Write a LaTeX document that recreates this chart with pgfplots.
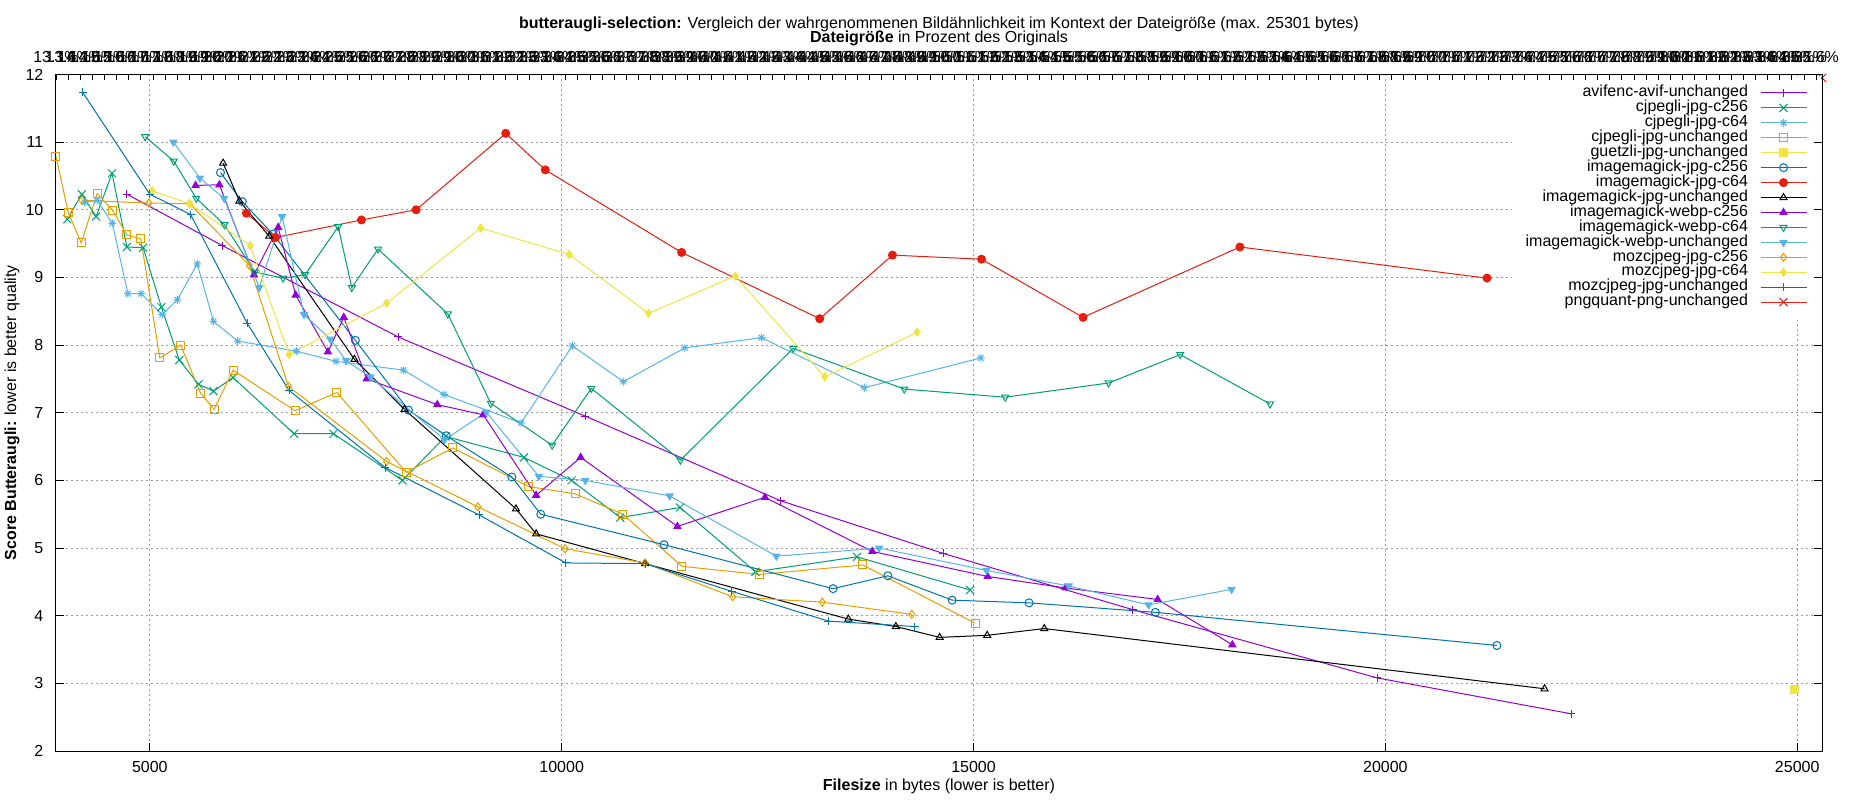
\documentclass[border=0pt]{standalone}
\usepackage{fontspec}
\setmainfont{Liberation Sans}
\usepackage{pgfplots}
\pgfplotsset{compat=1.18}
\definecolor{cpurple}{HTML}{9400D3}
\definecolor{cgreen}{HTML}{009E73}
\definecolor{csky}{HTML}{56B4E9}
\definecolor{corange}{HTML}{E69F00}
\definecolor{cyellow}{HTML}{F0E442}
\definecolor{cblue}{HTML}{0072B2}
\definecolor{cred}{HTML}{E51E10}
\newcommand{\fs}{\fontsize{8}{9.6}\selectfont}
\pgfdeclareplotmark{gpast}{%
 \pgfpathmoveto{\pgfqpoint{-\pgfplotmarksize}{0pt}}\pgfpathlineto{\pgfqpoint{\pgfplotmarksize}{0pt}}%
 \pgfpathmoveto{\pgfqpoint{0pt}{-\pgfplotmarksize}}\pgfpathlineto{\pgfqpoint{0pt}{\pgfplotmarksize}}%
 \pgfpathmoveto{\pgfqpoint{-0.7071\pgfplotmarksize}{-0.7071\pgfplotmarksize}}\pgfpathlineto{\pgfqpoint{0.7071\pgfplotmarksize}{0.7071\pgfplotmarksize}}%
 \pgfpathmoveto{\pgfqpoint{-0.7071\pgfplotmarksize}{0.7071\pgfplotmarksize}}\pgfpathlineto{\pgfqpoint{0.7071\pgfplotmarksize}{-0.7071\pgfplotmarksize}}%
 \pgfusepathqstroke}
\pgfdeclareplotmark{gpx}{%
 \pgfpathmoveto{\pgfqpoint{-\pgfplotmarksize}{-\pgfplotmarksize}}\pgfpathlineto{\pgfqpoint{\pgfplotmarksize}{\pgfplotmarksize}}%
 \pgfpathmoveto{\pgfqpoint{-\pgfplotmarksize}{\pgfplotmarksize}}\pgfpathlineto{\pgfqpoint{\pgfplotmarksize}{-\pgfplotmarksize}}%
 \pgfusepathqstroke}
\pgfplotsset{
 gp/.style={line width=0.5pt, mark size=2pt, mark options={solid, line width=0.5pt}},
 every axis title shift=0pt,
}
\begin{document}
\begin{tikzpicture}
\path[use as bounding box] (0,0) rectangle (925pt,400pt);
\begin{axis}[
 at={(28pt,24.5pt)}, anchor=south west,
 scale only axis, width=883pt, height=338.25pt,
 xmin=3861, xmax=25301, ymin=2, ymax=12,
 xtick={5000,10000,15000,20000,25000},
 ytick={2,...,12},
 scaled x ticks=false, scaled y ticks=false,
 xtick pos=bottom, ytick pos=left,
 tick align=inside,
 major tick length=3.9pt,
 grid=major,
 major grid style={dash pattern=on 1pt off 1.5pt, color=black!40, line width=0.5pt},
 axis line style={line width=0.5pt},
 every tick/.style={black, line width=0.5pt},
 /pgf/number format/1000 sep={},
 /pgf/number format/assume math mode=true,
 xticklabel style={font=\fs, yshift=-1.5pt},
 yticklabel style={font=\fs, xshift=-2.8pt},
 xlabel={\textbf{Filesize} in bytes (lower is better)},
 xlabel style={at={(axis description cs:0.5,-0.0517)}, anchor=center, font=\fs},
 ylabel={\textbf{Score Butteraugli:} lower is better quality},
 ylabel style={at={(axis description cs:-0.0249,0.5)}, anchor=center, font=\fs},
 title={\textbf{butteraugli-selection:} Vergleich der wahrgenommenen Bildähnlichkeit im Kontext der Dateigröße (max. 25301 bytes)},
 title style={at={(axis description cs:0.5,1.0745)}, anchor=center, font=\fs},
 legend style={at={(rel axis cs:1,1)}, anchor=north east, xshift=-0.3pt, yshift=-0.3pt, draw=none, fill=white, font=\fs,
   inner xsep=7pt, inner ysep=5pt, row sep=0pt, column sep=6pt,
   nodes={inner sep=0pt, text height=5.6pt, text depth=1.87pt}},
 legend cell align=right, legend plot pos=right,
 legend image code/.code={\draw[mark repeat=2,mark phase=2] plot coordinates {(0pt,0pt) (11.5pt,0pt) (23pt,0pt)};},
]
\addplot[gp, color=cpurple, mark=+] coordinates {
(4722,10.23) (5882,9.47) (8016,8.12) (10287,6.95) (12657,5.70) (14635,4.92) (16931,4.09) (19903,3.08) (22256,2.55)};
\addlegendentry{avifenc-avif-unchanged}
\addplot[gp, color=cgreen, mark=gpx] coordinates {
(3998,9.86) (4175,10.23) (4348,9.90) (4541,10.54) (4722,9.45) (4919,9.44) (5141,8.56) (5358,7.78) (5592,7.42) (5773,7.32) (6011,7.52) (6751,6.69) (7230,6.69) (8068,6.00) (8590,6.65) (9543,6.34) (10120,6.00) (10712,5.45) (11437,5.60) (12352,4.65) (13586,4.87) (14958,4.38)};
\addlegendentry{cjpegli-jpg-c256}
\addplot[gp, color=csky, mark=gpast] coordinates {
(4207,10.11) (4360,10.14) (4545,9.80) (4734,8.76) (4895,8.76) (5149,8.45) (5334,8.67) (5576,9.20) (5773,8.35) (6067,8.06) (6780,7.91) (7263,7.76) (8080,7.63) (8572,7.27) (9508,6.85) (10129,7.99) (10749,7.46) (11497,7.96) (12426,8.11) (13674,7.37) (15088,7.81)};
\addlegendentry{cjpegli-jpg-c64}
\addplot[gp, color=corange, mark=square] coordinates {
(3861,10.79) (4010,9.96) (4167,9.51) (4360,10.24) (4549,9.99) (4722,9.63) (4891,9.57) (5121,7.81) (5374,8.00) (5616,7.29) (5781,7.05) (6011,7.63) (6763,7.03) (7271,7.30) (8112,6.12) (8678,6.48) (9598,5.91) (10166,5.80) (10744,5.50) (11460,4.73) (12403,4.61) (13655,4.75) (15018,3.89)};
\addlegendentry{cjpegli-jpg-unchanged}
\addplot[gp, color=cyellow, mark=square*, mark options={fill=cyellow}] coordinates {
(24971,2.91)};
\addlegendentry{guetzli-jpg-unchanged}
\addplot[gp, color=cblue, mark=o] coordinates {
(5858,10.55) (6123,10.12) (6494,9.64) (7496,8.07) (8140,7.04) (8599,6.66) (9395,6.05) (9746,5.50) (11243,5.05) (13295,4.40) (13960,4.59) (14741,4.23) (15674,4.19) (17208,4.05) (21354,3.56)};
\addlegendentry{imagemagick-jpg-c256}
\addplot[gp, color=cred, mark=*, mark options={fill=cred}] coordinates {
(6172,9.95) (6526,9.59) (7569,9.85) (8233,10.00) (9321,11.13) (9801,10.59) (11456,9.37) (13133,8.39) (14016,9.33) (15097,9.27) (16330,8.41) (18234,9.45) (21234,8.99)};
\addlegendentry{imagemagick-jpg-c64}
\addplot[gp, color=black, mark=triangle] coordinates {
(5890,10.69) (6087,10.13) (6449,9.61) (7484,7.79) (8092,7.05) (9445,5.58) (9690,5.21) (11012,4.77) (13480,3.95) (14057,3.84) (14589,3.68) (15166,3.71) (15859,3.81) (21932,2.92)};
\addlegendentry{imagemagick-jpg-unchanged}
\addplot[gp, color=cpurple, mark=triangle*, mark options={fill=cpurple}] coordinates {
(5556,10.36) (5845,10.37) (6264,9.04) (6558,9.74) (6771,8.74) (7162,7.90) (7355,8.41) (7633,7.50) (8490,7.12) (9048,6.97) (9690,5.78) (10231,6.34) (11405,5.32) (12468,5.75) (13771,4.95) (15171,4.58) (16117,4.41) (17236,4.24) (18142,3.57)};
\addlegendentry{imagemagick-webp-c256}
\addplot[gp, color=cgreen, mark=triangle, mark options={rotate=180}] coordinates {
(4944,11.08) (5290,10.72) (5564,10.17) (5906,9.78) (6276,9.08) (6618,8.99) (6884,9.04) (7287,9.75) (7452,8.85) (7770,9.42) (8618,8.46) (9139,7.14) (9884,6.52) (10360,7.36) (11442,6.30) (12810,7.95) (14159,7.35) (15385,7.23) (16640,7.44) (17509,7.86) (18600,7.13)};
\addlegendentry{imagemagick-webp-c64}
\addplot[gp, color=csky, mark=triangle*, mark options={rotate=180, fill=csky}] coordinates {
(5286,11.00) (5608,10.47) (5902,10.17) (6329,8.85) (6606,9.90) (6872,8.45) (7190,8.09) (7383,7.77) (7677,7.53) (8578,6.60) (9085,7.01) (9723,6.06) (10287,6.00) (11312,5.77) (12606,4.88) (13854,5.00) (15157,4.67) (16154,4.44) (17125,4.16) (18133,4.39)};
\addlegendentry{imagemagick-webp-unchanged}
\addplot[gp, color=corange, mark=diamond] coordinates {
(4175,10.14) (4988,10.10) (5483,10.09) (6208,9.18) (6683,7.39) (7874,6.28) (8983,5.61) (10042,4.99) (11012,4.78) (12075,4.28) (13165,4.20) (14251,4.02)};
\addlegendentry{mozcjpeg-jpg-c256}
\addplot[gp, color=cyellow, mark=diamond*, mark options={fill=cyellow}] coordinates {
(5028,10.28) (5483,10.09) (6220,9.47) (6691,7.86) (7875,8.62) (9016,9.73) (10092,9.34) (11054,8.47) (12107,9.02) (13193,7.53) (14316,8.19)};
\addlegendentry{mozcjpeg-jpg-c64}
\addplot[gp, color=cblue, mark=+] coordinates {
(4183,11.74) (5000,10.23) (5495,9.93) (6184,8.32) (6691,7.33) (7858,6.19) (8997,5.49) (10051,4.78) (11012,4.77) (12066,4.36) (13239,3.92) (14288,3.84)};
\addlegendentry{mozcjpeg-jpg-unchanged}
\addplot[gp, color=cred, mark=gpx] coordinates {
(25301,11.95)};
\addlegendentry{pngquant-png-unchanged}
\end{axis}
\begin{axis}[
 at={(28pt,24.5pt)}, anchor=south west,
 scale only axis, width=883pt, height=338.25pt,
 xmin=13.1, xmax=85.84, ymin=2, ymax=12,
 axis x line*=top, axis y line*=right,
 xtick={13.1,13.6,...,85.7},
 ytick={2,...,12}, yticklabels={},
 xtick align=inside, ytick align=inside,
 x axis line style={line width=0.5pt}, y axis line style={line width=0.5pt},
 every tick/.style={black, line width=0.5pt},
 major tick length=3.9pt,
 xtick style={/pgfplots/major tick length=2.5pt},
 /pgf/number format/assume math mode=true,
 xticklabel={\pgfmathprintnumber[fixed,precision=1,fixed zerofill]{\tick}\%},
 xticklabel style={font=\fs, yshift=2.2pt},
 xlabel={\textbf{Dateigröße} in Prozent des Originals},
 xlabel style={at={(axis description cs:0.5,1.0534)}, anchor=center, font=\fs},
]
\end{axis}
\end{tikzpicture}
\end{document}
